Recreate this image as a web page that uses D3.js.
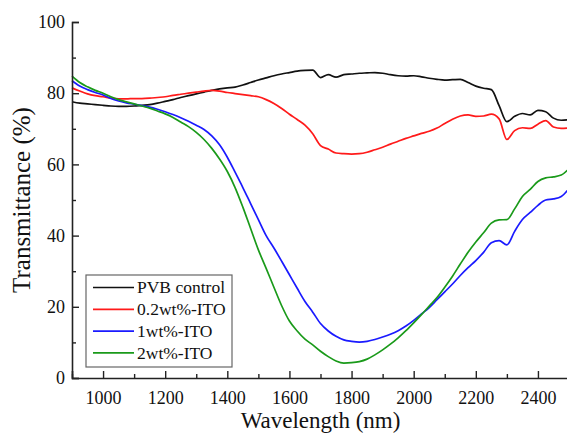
<!DOCTYPE html>
<html>
<head>
<meta charset="utf-8">
<script src="https://cdn.jsdelivr.net/npm/d3@7"></script>
<style>
	body { margin: 0; background: #fff; }
	text { font-family: "Liberation Serif", "Times New Roman", serif; fill: #111; }
</style>
</head>
<body>
<svg id="chart" width="567" height="436"></svg>
<script>

//data (wavelength in nm, transmittance in %)
var wavelength = [900, 925, 950, 975, 1000, 1025, 1050, 1075, 1100, 1125, 1150, 1175, 1200, 1225, 1250, 1275,
	1300, 1325, 1350, 1375, 1400, 1425, 1450, 1475, 1500, 1525, 1550, 1575, 1600, 1625, 1650, 1675,
	1700, 1725, 1750, 1775, 1800, 1825, 1850, 1875, 1900, 1925, 1950, 1975, 2000, 2025, 2050, 2075,
	2100, 2125, 2150, 2175, 2200, 2225, 2250, 2275, 2300, 2325, 2350, 2375, 2400, 2425, 2450, 2475, 2500];

var pvbControl = [77.6, 77.2, 77.0, 76.8, 76.6, 76.4, 76.3, 76.3, 76.4, 76.6, 76.8, 77.2, 77.7, 78.2, 78.8, 79.3,
	79.8, 80.3, 80.8, 81.2, 81.5, 81.7, 82.3, 83.0, 83.7, 84.3, 84.9, 85.4, 85.8, 86.2, 86.4, 86.5,
	84.4, 85.2, 84.5, 85.2, 85.4, 85.6, 85.7, 85.8, 85.6, 85.2, 84.9, 84.8, 84.9, 84.6, 84.2, 83.9,
	83.7, 83.8, 83.9, 83.0, 82.0, 81.4, 81.0, 76.5, 72.0, 73.5, 74.3, 73.9, 75.2, 74.8, 73.0, 72.4, 72.6];

var ito02 = [81.5, 80.6, 79.8, 79.3, 79.0, 78.6, 78.4, 78.4, 78.5, 78.5, 78.6, 78.8, 79.0, 79.4, 79.7, 80.0,
	80.3, 80.6, 80.8, 80.6, 80.2, 79.9, 79.6, 79.3, 79.0, 78.2, 77.1, 75.7, 74.1, 72.6, 71.0, 68.6,
	65.3, 64.3, 63.2, 63.0, 62.9, 63.0, 63.4, 64.1, 64.8, 65.7, 66.5, 67.3, 68.0, 68.7, 69.3, 70.2,
	71.5, 72.7, 73.6, 73.9, 73.5, 73.6, 74.1, 72.8, 67.0, 69.5, 70.3, 70.1, 71.3, 72.3, 70.5, 70.1, 70.2];

var ito1 = [83.5, 82.0, 81.0, 80.2, 79.5, 78.5, 77.8, 77.3, 76.9, 76.5, 76.1, 75.5, 74.8, 74.0, 73.1, 72.1,
	71.0, 69.8, 68.0, 65.5, 62.0, 57.8, 53.5, 49.0, 44.5, 40.0, 36.5, 32.8, 29.0, 25.2, 21.5, 18.5,
	15.3, 13.2, 11.7, 10.7, 10.3, 10.1, 10.3, 10.8, 11.5, 12.3, 13.3, 14.6, 16.2, 18.0, 19.8, 22.0,
	24.2, 26.4, 28.8, 31.0, 33.0, 35.3, 38.0, 38.6, 37.4, 41.2, 44.5, 46.5, 48.5, 50.0, 50.3, 51.0, 53.2];

var ito2 = [84.8, 83.0, 81.8, 80.8, 80.0, 79.0, 78.2, 77.6, 77.0, 76.4, 75.8, 75.0, 74.2, 73.2, 71.9, 70.6,
	69.0, 67.0, 64.5, 61.5, 58.0, 53.5, 48.0, 42.0, 36.0, 30.8, 25.5, 20.3, 16.0, 13.2, 10.9, 9.3,
	7.5, 6.0, 4.8, 4.2, 4.3, 4.6, 5.3, 6.5, 7.9, 9.5, 11.3, 13.3, 15.5, 17.8, 20.2, 22.6,
	25.5, 28.6, 32.0, 35.3, 38.2, 40.8, 43.5, 44.4, 44.5, 47.5, 51.0, 53.0, 55.2, 56.2, 56.5, 57.0, 58.8];

var seriesNames = ["PVB control", "0.2wt%-ITO", "1wt%-ITO", "2wt%-ITO"];
var seriesColors = ["#111111", "#ff1a1a", "#1a1aff", "#1a9a1a"];

var xTicks = [1000, 1200, 1400, 1600, 1800, 2000, 2200, 2400];
var yTicks = [0, 20, 40, 60, 80, 100];


//main variables
var svg = d3.select("#chart"),
	plotLeft = 72,
	plotRight = 569,
	plotTop = 22,
	plotBottom = 378;

var x = d3.scaleLinear().domain([900, 2500]).range([plotLeft, plotRight]),
	y = d3.scaleLinear().domain([0, 100]).range([plotBottom, plotTop]);

var allSeries = [pvbControl, ito02, ito1, ito2];


//--------------CURVES-----------------------------------------
var line = d3.line()
	.x(function(d, i){ return x(wavelength[i]); })
	.y(function(d){ return y(d); })
	.curve(d3.curveMonotoneX);

svg.append("g")
	.attr("class", "curves")
	.selectAll("path")
	.data(allSeries)
	.enter().append("path")
	.attr("d", line)
	.attr("fill", "none")
	.attr("stroke", function(d, i){ return seriesColors[i]; })
	.attr("stroke-width", 1.7);


//--------------AXES-----------------------------------------
//x axis, ticks pointing inside
svg.append("g")
	.attr("transform", "translate(0," + plotBottom + ")")
	.call(d3.axisBottom(x).tickValues(xTicks).tickSize(-7).tickPadding(13).tickFormat(d3.format("d")));

//minor x ticks
svg.append("g")
	.attr("transform", "translate(0," + plotBottom + ")")
	.call(d3.axisBottom(x).tickValues(d3.range(900, 2500, 200)).tickSize(-4).tickFormat(""))
	.select(".domain").remove();

svg.append("g")
	.attr("transform", "translate(" + plotLeft + ",0)")
	.call(d3.axisLeft(y).tickValues(yTicks).tickSize(-7).tickPadding(7));

svg.append("g")
	.attr("transform", "translate(" + plotLeft + ",0)")
	.call(d3.axisLeft(y).tickValues(d3.range(10, 100, 20)).tickSize(-4).tickFormat(""))
	.select(".domain").remove();

svg.selectAll(".domain")
	.attr("stroke", "#222")
	.attr("stroke-width", 1.6);
svg.selectAll(".tick line")
	.attr("stroke", "#222")
	.attr("stroke-width", 1.4);
svg.selectAll(".tick text")
	.attr("font-family", "Liberation Serif, serif")
	.attr("font-size", 18)
	.attr("fill", "#111");

//axis titles
svg.append("text")
	.attr("x", (plotLeft + plotRight) / 2)
	.attr("y", 428)
	.attr("text-anchor", "middle")
	.attr("font-size", 23)
	.text("Wavelength (nm)");

svg.append("text")
	.attr("transform", "translate(30," + (plotTop + plotBottom) / 2 + ") rotate(-90)")
	.attr("text-anchor", "middle")
	.attr("font-size", 25)
	.text("Transmittance (%)");


//--------------LEGEND-----------------------------------------
var legend = svg.append("g").attr("class", "legend");

legend.append("rect")
	.attr("x", 86)
	.attr("y", 275)
	.attr("width", 146)
	.attr("height", 92)
	.attr("fill", "#fff")
	.attr("stroke", "#666")
	.attr("stroke-width", 1.2);

var item = legend.selectAll(".item")
	.data(seriesNames)
	.enter().append("g")
	.attr("transform", function(d, i){ return "translate(0," + (287.5 + i * 21.8) + ")"; });

item.append("line")
	.attr("x1", 93)
	.attr("x2", 134)
	.attr("stroke", function(d, i){ return seriesColors[i]; })
	.attr("stroke-width", 1.7);

item.append("text")
	.attr("x", 137)
	.attr("dy", "0.33em")
	.attr("font-size", 17.5)
	.text(function(d){ return d; });

</script>
</body>
</html>
